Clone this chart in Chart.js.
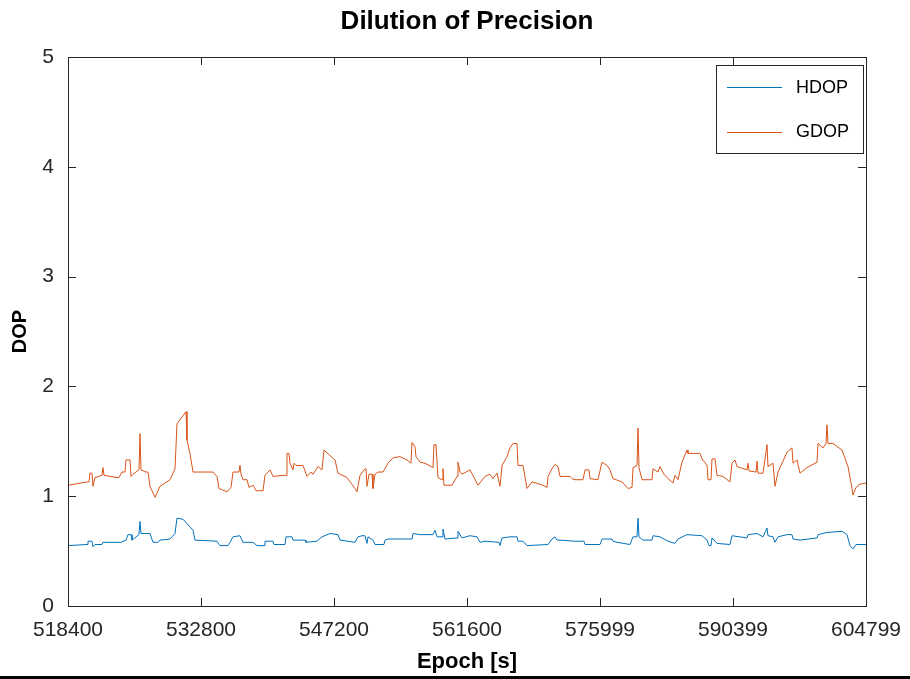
<!DOCTYPE html>
<html>
<head>
<meta charset="utf-8">
<script src="https://cdn.jsdelivr.net/npm/chart.js@4.4.1/dist/chart.umd.min.js"></script>
<style>
  html, body { margin: 0; padding: 0; background: #fff; }
  #wrap { width: 910px; height: 679px; }
</style>
</head>
<body>
<div id="wrap"><canvas id="dop-chart" width="910" height="679"></canvas></div>
<script>
// x tick positions (seconds of GPS week)
const xTickValues = [518400, 532800, 547200, 561600, 575999, 590399, 604799];

// GDOP
const gdopEpoch = [
  518400, 520460, 520674, 520782, 520998, 521107, 521323, 522081, 522189, 522298,
  523705, 523922, 524247, 524571, 524680, 525113, 525221, 525438, 526087, 526195,
  526304, 526845, 527062, 527278, 527819, 528036, 528361, 529444, 529985, 530201,
  531176, 531284, 531609, 531934, 534099, 534532, 534749, 535615, 536048, 536265,
  536914, 537022, 537131, 537347, 537780, 537997, 538430, 538755, 539513, 539729,
  540054, 540271, 540595, 541678, 542003, 542111, 542328, 542436, 542761, 542869,
  543086, 543843, 544277, 544710, 544926, 545468, 545901, 546117, 546767, 547308,
  547633, 548607, 549473, 549690, 550015, 550556, 550664, 550773, 550989, 551314,
  551422, 551639, 551964, 552505, 553046, 553588, 554346, 555104, 555537, 555645,
  555970, 556078, 556511, 557052, 557919, 558027, 558243, 558460, 558893, 559001,
  559110, 559976, 560517, 560625, 560842, 561058, 561925, 562791, 563549, 564090,
  564415, 564848, 565173, 565389, 565931, 566255, 566580, 567013, 567122, 567663,
  568096, 568637, 569828, 570261, 570370, 570803, 571127, 571452, 571669, 572752,
  572968, 573293, 574159, 574376, 574809, 574917, 575783, 576216, 576758, 577082,
  577407, 578382, 579031, 579464, 579573, 580006, 580114, 580222, 580547, 581630,
  581738, 582279, 582496, 582929, 583362, 583903, 584120, 584445, 584878, 585419,
  585527, 586827, 587043, 587585, 587693, 588018, 588126, 588451, 588667, 589317,
  590075, 590291, 590616, 590833, 591915, 592024, 592132, 592890, 592998, 593106,
  593648, 594081, 594189, 594730, 594947, 595272, 596246, 596787, 596896, 597329,
  597654, 598412, 599494, 599603, 600144, 600469, 600577, 600685, 601227, 602201,
  602851, 603284, 603392, 603717, 604150, 604799
];
const gdopValues = [
  1.10, 1.13, 1.13, 1.21, 1.21, 1.09, 1.17, 1.19, 1.26, 1.19,
  1.17, 1.17, 1.22, 1.22, 1.33, 1.33, 1.18, 1.20, 1.24, 1.57,
  1.24, 1.22, 1.22, 1.09, 0.99, 1.03, 1.09, 1.15, 1.25, 1.66,
  1.77, 1.51, 1.39, 1.22, 1.22, 1.18, 1.07, 1.04, 1.08, 1.22,
  1.22, 1.28, 1.20, 1.15, 1.15, 1.08, 1.10, 1.05, 1.05, 1.19,
  1.22, 1.24, 1.18, 1.19, 1.19, 1.39, 1.39, 1.30, 1.24, 1.30,
  1.28, 1.28, 1.18, 1.22, 1.20, 1.27, 1.24, 1.42, 1.37, 1.33,
  1.21, 1.17, 1.07, 1.04, 1.19, 1.25, 1.25, 1.09, 1.20, 1.20,
  1.07, 1.20, 1.22, 1.22, 1.30, 1.35, 1.36, 1.33, 1.30, 1.49,
  1.45, 1.36, 1.31, 1.30, 1.26, 1.47, 1.47, 1.17, 1.15, 1.25,
  1.10, 1.10, 1.18, 1.31, 1.22, 1.20, 1.24, 1.10, 1.18, 1.20,
  1.16, 1.21, 1.09, 1.28, 1.36, 1.44, 1.48, 1.48, 1.28, 1.28,
  1.07, 1.13, 1.10, 1.08, 1.18, 1.25, 1.29, 1.27, 1.18, 1.18,
  1.16, 1.15, 1.15, 1.24, 1.24, 1.16, 1.15, 1.31, 1.28, 1.24,
  1.16, 1.13, 1.07, 1.08, 1.26, 1.28, 1.62, 1.26, 1.15, 1.15,
  1.25, 1.22, 1.27, 1.20, 1.16, 1.12, 1.19, 1.15, 1.31, 1.42,
  1.39, 1.39, 1.34, 1.28, 1.15, 1.15, 1.34, 1.34, 1.19, 1.18,
  1.13, 1.30, 1.33, 1.27, 1.24, 1.30, 1.23, 1.22, 1.32, 1.21,
  1.21, 1.47, 1.27, 1.30, 1.09, 1.22, 1.40, 1.44, 1.30, 1.33,
  1.21, 1.26, 1.31, 1.48, 1.44, 1.48, 1.65, 1.48, 1.48, 1.42,
  1.27, 1.07, 1.01, 1.08, 1.11, 1.12
];

// HDOP
const hdopEpoch = [
  518400, 520460, 520565, 520998, 521107, 521323, 522081, 522189, 523922, 524138,
  524680, 524896, 525221, 525329, 526087, 526195, 526304, 527278, 527603, 528144,
  528361, 529444, 529985, 530201, 530851, 531284, 531609, 531934, 532150, 534532,
  534857, 535723, 535940, 536265, 537022, 537347, 538430, 538863, 539621, 539729,
  540595, 540704, 541895, 542003, 542652, 542761, 544060, 544168, 545359, 545901,
  546767, 547633, 547849, 549473, 549798, 550231, 550556, 550773, 550881, 551422,
  551639, 552613, 552722, 553046, 555645, 555753, 556511, 557919, 558135, 558352,
  558893, 559001, 559218, 560517, 560625, 561058, 561925, 562682, 563007, 563549,
  565064, 565173, 565389, 566255, 567013, 567122, 567663, 568096, 570370, 570803,
  571127, 571344, 571669, 573293, 574267, 574376, 576000, 576216, 577299, 577407,
  577840, 579248, 579573, 580006, 580114, 580222, 580655, 581630, 581738, 582496,
  583362, 584120, 584445, 585419, 587043, 587585, 587801, 588018, 588126, 588667,
  590075, 590291, 591915, 592024, 592998, 593648, 594081, 594189, 594730, 594947,
  595272, 596246, 596787, 596896, 597654, 599494, 599603, 600577, 602201, 602742,
  603067, 603392, 603717, 604799
];
const hdopValues = [
  0.55, 0.56, 0.59, 0.59, 0.54, 0.56, 0.56, 0.58, 0.58, 0.58,
  0.60, 0.65, 0.65, 0.60, 0.65, 0.77, 0.66, 0.66, 0.58, 0.58,
  0.60, 0.61, 0.66, 0.80, 0.79, 0.75, 0.72, 0.69, 0.60, 0.59,
  0.55, 0.55, 0.58, 0.63, 0.64, 0.58, 0.58, 0.55, 0.55, 0.59,
  0.59, 0.56, 0.56, 0.63, 0.63, 0.60, 0.60, 0.58, 0.59, 0.63,
  0.66, 0.65, 0.60, 0.58, 0.63, 0.64, 0.64, 0.57, 0.63, 0.60,
  0.56, 0.56, 0.60, 0.61, 0.61, 0.66, 0.65, 0.65, 0.69, 0.63,
  0.63, 0.70, 0.61, 0.62, 0.68, 0.62, 0.64, 0.63, 0.58, 0.59,
  0.58, 0.55, 0.62, 0.63, 0.63, 0.59, 0.59, 0.55, 0.56, 0.61,
  0.63, 0.60, 0.60, 0.59, 0.59, 0.56, 0.56, 0.61, 0.61, 0.59,
  0.58, 0.56, 0.63, 0.63, 0.80, 0.63, 0.60, 0.60, 0.64, 0.63,
  0.59, 0.57, 0.61, 0.65, 0.64, 0.60, 0.55, 0.55, 0.62, 0.57,
  0.56, 0.64, 0.62, 0.65, 0.66, 0.63, 0.71, 0.64, 0.63, 0.58,
  0.63, 0.65, 0.65, 0.61, 0.60, 0.62, 0.65, 0.67, 0.68, 0.65,
  0.55, 0.52, 0.56, 0.56
];

const hdopColor = '#0072BD';
const gdopColor = '#D95319';
const axisColor = '#262626';
const fontFamily = '"Liberation Sans", Arial, Helvetica, sans-serif';

function toPoints(xs, ys) {
    return xs.map((x, i) => ({ x: x, y: ys[i] }));
}

// MATLAB-like box, inward ticks, legend and the dark strip at the bottom
const matlabFrame = {
    id: 'matlabFrame',
    afterDatasetsDraw(chart) {
        const ctx = chart.ctx;
        const area = chart.chartArea;
        const xs = chart.scales.x;
        const ys = chart.scales.y;
        const tickLen = 8;

        ctx.save();
        ctx.strokeStyle = axisColor;
        ctx.lineWidth = 1;
        ctx.strokeRect(Math.round(area.left) + 0.5, Math.round(area.top) + 0.5,
            Math.round(area.right - area.left), Math.round(area.bottom - area.top));

        ctx.beginPath();
        xs.ticks.forEach(t => {
            const px = Math.round(xs.getPixelForValue(t.value)) + 0.5;
            ctx.moveTo(px, area.bottom);
            ctx.lineTo(px, area.bottom - tickLen);
            ctx.moveTo(px, area.top);
            ctx.lineTo(px, area.top + tickLen);
        });
        ys.ticks.forEach(t => {
            const py = Math.round(ys.getPixelForValue(t.value)) + 0.5;
            ctx.moveTo(area.left, py);
            ctx.lineTo(area.left + tickLen, py);
            ctx.moveTo(area.right, py);
            ctx.lineTo(area.right - tickLen, py);
        });
        ctx.stroke();

        // legend box (north-east)
        const boxW = 147, boxH = 88;
        const bx = Math.round(area.right) - 3 - boxW;
        const by = Math.round(area.top) + 8;
        ctx.fillStyle = '#fff';
        ctx.fillRect(bx, by, boxW, boxH);
        ctx.strokeStyle = axisColor;
        ctx.strokeRect(bx + 0.5, by + 0.5, boxW, boxH);

        ctx.font = '18px ' + fontFamily;
        ctx.textBaseline = 'middle';
        ctx.textAlign = 'left';
        chart.data.datasets.forEach((ds, i) => {
            const ly = by + 22 + i * 44.5;
            ctx.strokeStyle = ds.borderColor;
            ctx.beginPath();
            ctx.moveTo(bx + 11, Math.round(ly) + 0.5);
            ctx.lineTo(bx + 66, Math.round(ly) + 0.5);
            ctx.stroke();
            ctx.fillStyle = '#000';
            ctx.fillText(ds.label, bx + 80, ly + 1);
        });

        ctx.fillStyle = '#000';
        ctx.fillRect(0, chart.height - 3, chart.width, 3);
        ctx.restore();
    }
};

const ctx = document.getElementById('dop-chart').getContext('2d');
const dopChart = new Chart(ctx, {
    type: 'line',
    data: {
        datasets: [
            {
                label: 'HDOP',
                data: toPoints(hdopEpoch, hdopValues),
                borderColor: hdopColor,
                borderWidth: 1,
                pointRadius: 0,
                tension: 0
            },
            {
                label: 'GDOP',
                data: toPoints(gdopEpoch, gdopValues),
                borderColor: gdopColor,
                borderWidth: 1,
                pointRadius: 0,
                tension: 0
            }
        ]
    },
    options: {
        responsive: false,
        animation: false,
        devicePixelRatio: 1,
        layout: { padding: { top: 0, right: 44, bottom: 0, left: 0 } },
        plugins: {
            legend: { display: false },
            tooltip: { enabled: false },
            title: {
                display: true,
                fullSize: false,
                text: 'Dilution of Precision',
                color: '#000',
                font: { family: fontFamily, size: 26, weight: 'bold' },
                padding: { top: 6, bottom: 19.8 }
            }
        },
        scales: {
            x: {
                type: 'linear',
                min: 518400,
                max: 604799,
                grid: { display: false, drawTicks: false },
                border: { display: false },
                afterBuildTicks: scale => {
                    scale.ticks = xTickValues.map(v => ({ value: v }));
                },
                afterFit: scale => {
                    scale.height = 73;
                    scale.paddingLeft = 0;
                    scale.paddingRight = 0;
                },
                ticks: {
                    color: axisColor,
                    padding: 12,
                    maxRotation: 0,
                    autoSkip: false,
                    font: { family: fontFamily, size: 21 },
                    callback: v => String(v)
                },
                title: {
                    display: true,
                    text: 'Epoch [s]',
                    color: '#000',
                    font: { family: fontFamily, size: 22, weight: 'bold' },
                    padding: { top: 0, bottom: 4 }
                }
            },
            y: {
                min: 0,
                max: 5,
                grid: { display: false, drawTicks: false },
                border: { display: false },
                afterFit: scale => { scale.width = 68; },
                ticks: {
                    stepSize: 1,
                    color: axisColor,
                    padding: 14,
                    font: { family: fontFamily, size: 21 }
                },
                title: {
                    display: true,
                    text: 'DOP',
                    color: '#000',
                    font: { family: fontFamily, size: 20, weight: 'bold' },
                    padding: { top: 8, bottom: 0 }
                }
            }
        }
    },
    plugins: [matlabFrame]
});
</script>
</body>
</html>
